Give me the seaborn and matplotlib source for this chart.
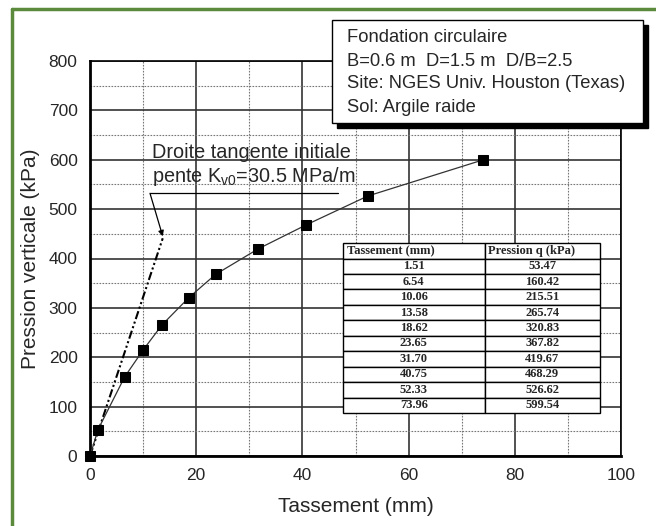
import numpy as np
import pandas as pd
import matplotlib
matplotlib.use("Agg")
import matplotlib.pyplot as plt
import matplotlib.patches as mpatches
import matplotlib.lines as mlines
from matplotlib.ticker import MultipleLocator
import seaborn as sns

sns.set_style("white")
plt.rcParams['font.family'] = ['Liberation Sans', 'DejaVu Sans']
plt.rcParams['mathtext.fontset'] = 'custom'
plt.rcParams['mathtext.rm'] = 'Liberation Sans'
plt.rcParams['mathtext.it'] = 'Liberation Sans:italic'

# essai de chargement (table de l'article)
tassement = [0.0, 1.51, 6.54, 10.06, 13.58, 18.62, 23.65, 31.70, 40.75, 52.33, 73.96]
pression = [0.0, 53.47, 160.42, 215.51, 265.74, 320.83, 367.82, 419.67, 468.29, 526.62, 599.54]

# droite tangente initiale
tangente_x = [0.0, 13.7]
tangente_y = [0.0, 441.0]

info_lines = ["Fondation circulaire",
              "B=0.6 m  D=1.5 m  D/B=2.5",
              "Site: NGES Univ. Houston (Texas)",
              "Sol: Argile raide"]

col_labels = ["Tassement (mm)", "Pression q (kPa)"]

df = pd.DataFrame({'Tassement': tassement, 'Pression': pression})

fig = plt.figure(figsize=(6.56, 5.26), dpi=100)
ax = fig.add_axes([90/656, 1-456/526, 531/656, 395/526])

ax.grid(True, which='major', color='#333333', lw=1.2, ls='-')
ax.grid(True, which='minor', color='#777777', lw=0.8, ls=(0, (1.5, 1.2)))
ax.set_axisbelow(True)

sns.lineplot(data=df, x='Tassement', y='Pression', ax=ax, color='#333333',
             lw=0.9, marker='s', markersize=7, markerfacecolor='black',
             markeredgecolor='black', clip_on=False, zorder=5)
ax.plot(tangente_x, tangente_y, color='black', lw=1.5,
        ls=(0, (4, 1.3, 1, 1.3, 1, 1.3)), zorder=4)

ax.set_xlim(0, 100)
ax.set_ylim(0, 800)
ax.xaxis.set_major_locator(MultipleLocator(20))
ax.xaxis.set_minor_locator(MultipleLocator(10))
ax.yaxis.set_major_locator(MultipleLocator(100))
ax.yaxis.set_minor_locator(MultipleLocator(50))
ax.tick_params(which='major', direction='out', length=7, width=1.4, labelsize=12.5, pad=2)
ax.tick_params(which='minor', direction='inout', length=5, width=1.0)
for s in ['left', 'bottom']:
    ax.spines[s].set_linewidth(2.0)
for s in ['right', 'top']:
    ax.spines[s].set_linewidth(1.2)
for s in ax.spines.values():
    s.set_color('black')

ax.set_xlabel("Tassement (mm)", fontsize=15, labelpad=10)
ax.set_ylabel("Pression verticale (kPa)", fontsize=15, labelpad=6)

# annotation de la droite tangente
ax.text(11.6, 615, "Droite tangente initiale", fontsize=14.3, va='center', ha='left')
ax.text(11.6, 567, r"pente K$_{\mathrm{v0}}$=30.5 MPa/m", fontsize=14.3, va='center', ha='left')
ax.add_line(mlines.Line2D([11.3, 46.7], [532, 532], color='black', lw=0.9))
ax.annotate("", xy=(13.7, 445), xytext=(11.3, 532),
            arrowprops=dict(arrowstyle='-|>', color='black', lw=0.9,
                            mutation_scale=8, shrinkA=0, shrinkB=0))

# tableau des valeurs
cell_text = [["%.2f" % t, "%.2f" % p] for t, p in zip(tassement[1:], pression[1:])]
tbl = ax.table(cellText=cell_text, colLabels=col_labels, cellLoc='center',
               colWidths=[142, 115], bbox=[0.476, 0.109, 0.484, 0.430], zorder=6)
tbl.auto_set_font_size(False)
for (r, c), cell in tbl.get_celld().items():
    cell.set_facecolor('white')
    cell.set_edgecolor('black')
    cell.set_linewidth(1.0)
    cell.get_text().set_fontsize(9)
    cell.get_text().set_fontfamily('Liberation Serif')
    cell.get_text().set_fontweight('bold')
    if r == 0:
        cell.get_text().set_ha('left')
        cell._loc = 'left'
        cell.PAD = 0.03

# encadre d'information avec ombre
bx0, by0, bw, bh = 332/656, 1-123/526, 311/656, 103/526
fig.patches.append(mpatches.Rectangle((bx0 + 5/656, by0 - 5/526), bw, bh, transform=fig.transFigure,
                                      facecolor='black', edgecolor='black', zorder=8))
fig.patches.append(mpatches.Rectangle((bx0, by0), bw, bh, transform=fig.transFigure,
                                      facecolor='white', edgecolor='black', lw=1.0, zorder=9))
for i, line in enumerate(info_lines):
    fig.text(347/656, 1-(38 + i*23)/526, line, fontsize=13.2, va='center', ha='left', zorder=10)

# cadre vert
fig.add_artist(mlines.Line2D([11.5/656, 11.5/656], [0, 1-8.5/526], transform=fig.transFigure,
                             color='#5b8a3c', lw=2.5))
fig.add_artist(mlines.Line2D([11.5/656, 1], [1-8.5/526, 1-8.5/526], transform=fig.transFigure,
                             color='#5b8a3c', lw=2.5))

fig.savefig("out.png", dpi=100)
